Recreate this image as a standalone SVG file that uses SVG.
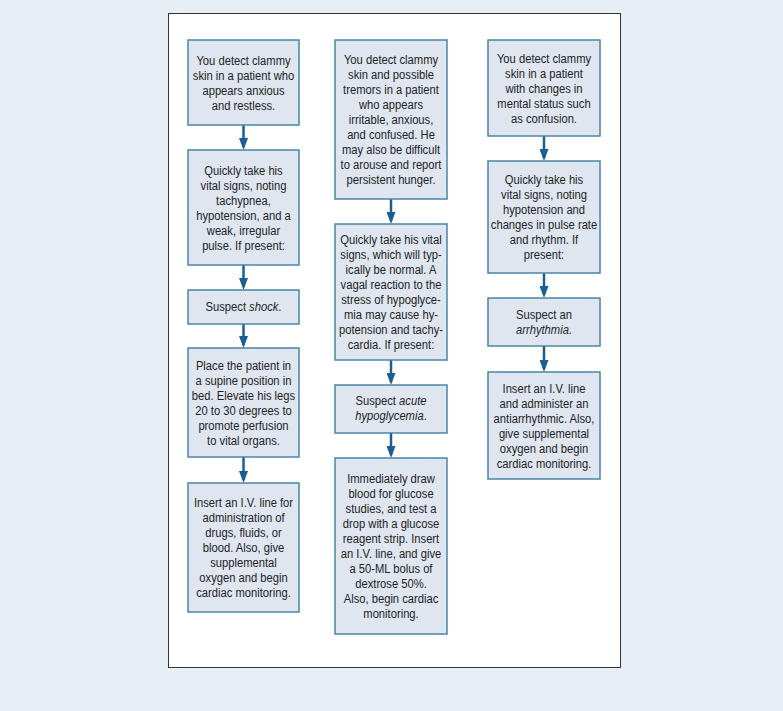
<svg xmlns="http://www.w3.org/2000/svg" width="783" height="711" viewBox="0 0 783 711">
<defs>
<style>
.bg{fill:#e8eef5}
.frame{fill:#ffffff;stroke:#333333;stroke-width:1}
.box{fill:#dfe6f0;stroke:#4a85a8;stroke-width:1.5}
.t{font-family:"Liberation Sans",Arial,sans-serif;font-size:13.5px;fill:#232323;text-anchor:middle}
.i{font-style:italic}
.c{stroke:#1b5e94;stroke-width:2.5;fill:none}
</style>
<marker id="ah" viewBox="0 0 12 9" refX="9" refY="4.5" markerWidth="12" markerHeight="9" orient="auto" markerUnits="userSpaceOnUse">
<path d="M0,0 L12,4.5 L0,9 z" fill="#1b5e94"/>
</marker>
</defs>
<rect class="bg" x="0" y="0" width="783" height="711"/>
<rect class="frame" x="168.5" y="13.5" width="452" height="654"/>

<g id="connectors">
<line class="c" x1="243.5" y1="125" x2="243.5" y2="147" marker-end="url(#ah)"/>
<line class="c" x1="243.5" y1="265" x2="243.5" y2="287" marker-end="url(#ah)"/>
<line class="c" x1="243.5" y1="324" x2="243.5" y2="345" marker-end="url(#ah)"/>
<line class="c" x1="243.5" y1="457" x2="243.5" y2="480" marker-end="url(#ah)"/>
<line class="c" x1="391" y1="199" x2="391" y2="221" marker-end="url(#ah)"/>
<line class="c" x1="391" y1="360" x2="391" y2="382" marker-end="url(#ah)"/>
<line class="c" x1="391" y1="433" x2="391" y2="455" marker-end="url(#ah)"/>
<line class="c" x1="544" y1="136" x2="544" y2="158" marker-end="url(#ah)"/>
<line class="c" x1="544" y1="273" x2="544" y2="295" marker-end="url(#ah)"/>
<line class="c" x1="544" y1="346" x2="544" y2="369" marker-end="url(#ah)"/>
</g>

<g id="n1a">
<rect class="box" x="188" y="40" width="111" height="85"/>
<text class="t" transform="translate(243.5,0) scale(0.83,1)"><tspan x="0" y="65">You detect clammy</tspan><tspan x="0" y="80">skin in a patient who</tspan><tspan x="0" y="95">appears anxious</tspan><tspan x="0" y="110">and restless.</tspan></text>
</g>
<g id="n1b">
<rect class="box" x="188" y="150" width="111" height="115"/>
<text class="t" transform="translate(243.5,0) scale(0.83,1)"><tspan x="0" y="175">Quickly take his</tspan><tspan x="0" y="190">vital signs, noting</tspan><tspan x="0" y="205">tachypnea,</tspan><tspan x="0" y="220">hypotension, and a</tspan><tspan x="0" y="235">weak, irregular</tspan><tspan x="0" y="250">pulse. If present:</tspan></text>
</g>
<g id="n1c">
<rect class="box" x="188" y="290" width="111" height="34"/>
<text class="t" transform="translate(243.5,0) scale(0.83,1)"><tspan x="0" y="311.5">Suspect <tspan class="i">shock</tspan>.</tspan></text>
</g>
<g id="n1d">
<rect class="box" x="188" y="348" width="111" height="109"/>
<text class="t" transform="translate(243.5,0) scale(0.83,1)"><tspan x="0" y="370">Place the patient in</tspan><tspan x="0" y="385">a supine position in</tspan><tspan x="0" y="400">bed. Elevate his legs</tspan><tspan x="0" y="415">20 to 30 degrees to</tspan><tspan x="0" y="430">promote perfusion</tspan><tspan x="0" y="445">to vital organs.</tspan></text>
</g>
<g id="n1e">
<rect class="box" x="188" y="483" width="111" height="129"/>
<text class="t" transform="translate(243.5,0) scale(0.83,1)"><tspan x="0" y="507">Insert an I.V. line for</tspan><tspan x="0" y="522">administration of</tspan><tspan x="0" y="537">drugs, fluids, or</tspan><tspan x="0" y="552">blood. Also, give</tspan><tspan x="0" y="567">supplemental</tspan><tspan x="0" y="582">oxygen and begin</tspan><tspan x="0" y="597">cardiac monitoring.</tspan></text>
</g>

<g id="n2a">
<rect class="box" x="335" y="40" width="112" height="159"/>
<text class="t" transform="translate(391,0) scale(0.83,1)"><tspan x="0" y="64">You detect clammy</tspan><tspan x="0" y="79">skin and possible</tspan><tspan x="0" y="94">tremors in a patient</tspan><tspan x="0" y="109">who appears</tspan><tspan x="0" y="124">irritable, anxious,</tspan><tspan x="0" y="139">and confused. He</tspan><tspan x="0" y="154">may also be difficult</tspan><tspan x="0" y="169">to arouse and report</tspan><tspan x="0" y="184">persistent hunger.</tspan></text>
</g>
<g id="n2b">
<rect class="box" x="335" y="224" width="112" height="136"/>
<text class="t" transform="translate(391,0) scale(0.83,1)"><tspan x="0" y="244">Quickly take his vital</tspan><tspan x="0" y="259">signs, which will typ-</tspan><tspan x="0" y="274">ically be normal. A</tspan><tspan x="0" y="289">vagal reaction to the</tspan><tspan x="0" y="304">stress of hypoglyce-</tspan><tspan x="0" y="319">mia may cause hy-</tspan><tspan x="0" y="334">potension and tachy-</tspan><tspan x="0" y="349">cardia. If present:</tspan></text>
</g>
<g id="n2c">
<rect class="box" x="335" y="385" width="112" height="48"/>
<text class="t" transform="translate(391,0) scale(0.83,1)"><tspan x="0" y="405.5">Suspect <tspan class="i">acute</tspan></tspan><tspan x="0" y="420.5" class="i">hypoglycemia<tspan font-style="normal">.</tspan></tspan></text>
</g>
<g id="n2d">
<rect class="box" x="335" y="458" width="112" height="176"/>
<text class="t" transform="translate(391,0) scale(0.83,1)"><tspan x="0" y="483">Immediately draw</tspan><tspan x="0" y="498">blood for glucose</tspan><tspan x="0" y="513">studies, and test a</tspan><tspan x="0" y="528">drop with a glucose</tspan><tspan x="0" y="543">reagent strip. Insert</tspan><tspan x="0" y="558">an I.V. line, and give</tspan><tspan x="0" y="573">a 50-ML bolus of</tspan><tspan x="0" y="588">dextrose 50%.</tspan><tspan x="0" y="603">Also, begin cardiac</tspan><tspan x="0" y="618">monitoring.</tspan></text>
</g>

<g id="n3a">
<rect class="box" x="488" y="40" width="112" height="96"/>
<text class="t" transform="translate(544,0) scale(0.83,1)"><tspan x="0" y="63">You detect clammy</tspan><tspan x="0" y="78">skin in a patient</tspan><tspan x="0" y="93">with changes in</tspan><tspan x="0" y="108">mental status such</tspan><tspan x="0" y="123">as confusion.</tspan></text>
</g>
<g id="n3b">
<rect class="box" x="488" y="161" width="112" height="112"/>
<text class="t" transform="translate(544,0) scale(0.83,1)"><tspan x="0" y="184">Quickly take his</tspan><tspan x="0" y="199">vital signs, noting</tspan><tspan x="0" y="214">hypotension and</tspan><tspan x="0" y="229">changes in pulse rate</tspan><tspan x="0" y="244">and rhythm. If</tspan><tspan x="0" y="259">present:</tspan></text>
</g>
<g id="n3c">
<rect class="box" x="488" y="298" width="112" height="48"/>
<text class="t" transform="translate(544,0) scale(0.83,1)"><tspan x="0" y="319">Suspect an</tspan><tspan x="0" y="334" class="i">arrhythmia<tspan font-style="normal">.</tspan></tspan></text>
</g>
<g id="n3d">
<rect class="box" x="488" y="372" width="112" height="107"/>
<text class="t" transform="translate(544,0) scale(0.83,1)"><tspan x="0" y="393">Insert an I.V. line</tspan><tspan x="0" y="408">and administer an</tspan><tspan x="0" y="423">antiarrhythmic. Also,</tspan><tspan x="0" y="438">give supplemental</tspan><tspan x="0" y="453">oxygen and begin</tspan><tspan x="0" y="468">cardiac monitoring.</tspan></text>
</g>
</svg>
